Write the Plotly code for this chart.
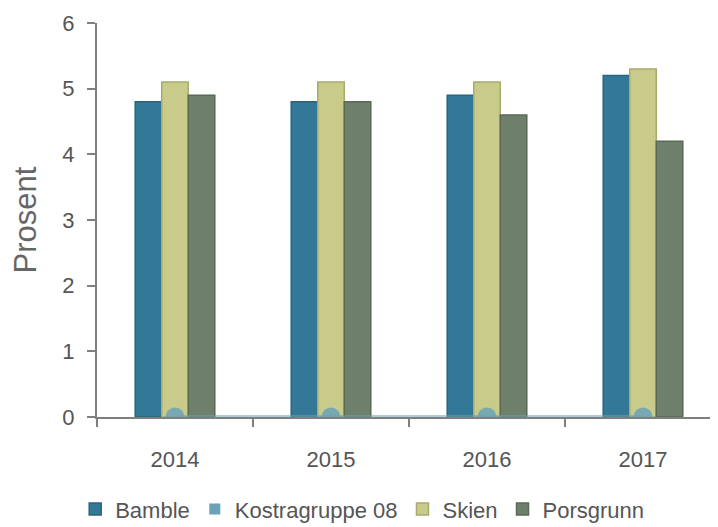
import plotly.graph_objects as go

# Data
years = ["2014", "2015", "2016", "2017"]
bamble = [4.8, 4.8, 4.9, 5.2]
kostragruppe_08 = [0, 0, 0, 0]
skien = [5.1, 5.1, 5.1, 5.3]
porsgrunn = [4.9, 4.8, 4.6, 4.2]

FONT = "Liberation Sans, Arial, sans-serif"
TEXT_COLOR = "#555555"
AXIS_COLOR = "#7f7f7f"

fig = go.Figure()

fig.add_trace(go.Bar(
    x=years, y=bamble, name="Bamble",
    marker=dict(color="#347897", line=dict(color="#2a6480", width=1.5)),
))

# Kostragruppe 08 drawn as a faint line with markers sitting on the x axis
fig.add_trace(go.Scatter(
    x=years, y=kostragruppe_08, name="Kostragruppe 08",
    mode="lines+markers", showlegend=False,
    line=dict(color="rgba(106,163,184,0.55)", width=4),
    marker=dict(color="rgba(106,163,184,0.85)", size=19),
))
# legend entry with a square symbol for Kostragruppe 08
fig.add_trace(go.Scatter(
    x=[None], y=[None], name="Kostragruppe 08", mode="markers",
    marker=dict(color="#6aa3b8", symbol="square", size=11),
))

fig.add_trace(go.Bar(
    x=years, y=skien, name="Skien",
    marker=dict(color="#c9cb8b", line=dict(color="#a9ab6e", width=1.5)),
))
fig.add_trace(go.Bar(
    x=years, y=porsgrunn, name="Porsgrunn",
    marker=dict(color="#6e806b", line=dict(color="#596a57", width=1.5)),
))

# the page body adds an 8px offset, so margins are shifted to compensate
fig.update_layout(
    width=718, height=527,
    margin=dict(l=89, r=5, t=15, b=112),
    paper_bgcolor="white",
    plot_bgcolor="white",
    barmode="group",
    bargap=0.49,
    bargroupgap=0,
    font=dict(family=FONT, size=22, color=TEXT_COLOR),
    legend=dict(
        orientation="h",
        x=0.425, xanchor="center",
        y=-0.234, yanchor="middle",
        font=dict(size=22, color=TEXT_COLOR),
        itemwidth=30,
        traceorder="normal",
    ),
)

fig.update_xaxes(
    range=[-0.5, 3.5], automargin=False,
    showline=True, linecolor=AXIS_COLOR, linewidth=2,
    ticks="outside", tickson="boundaries", ticklen=8, tickcolor=AXIS_COLOR, tickwidth=1.5,
    ticklabelstandoff=22,
    showgrid=False, zeroline=False,
    tickfont=dict(size=22, color=TEXT_COLOR),
)
fig.update_yaxes(
    range=[0, 6], dtick=1, automargin=False,
    showline=True, linecolor=AXIS_COLOR, linewidth=2,
    ticks="outside", ticklen=8, tickcolor=AXIS_COLOR, tickwidth=1.5,
    ticklabelstandoff=8,
    showgrid=False, zeroline=False,
    tickfont=dict(size=22, color=TEXT_COLOR),
    title=dict(text="Prosent", font=dict(size=31, color="#666666"), standoff=24),
)

fig.write_html("out.html")
